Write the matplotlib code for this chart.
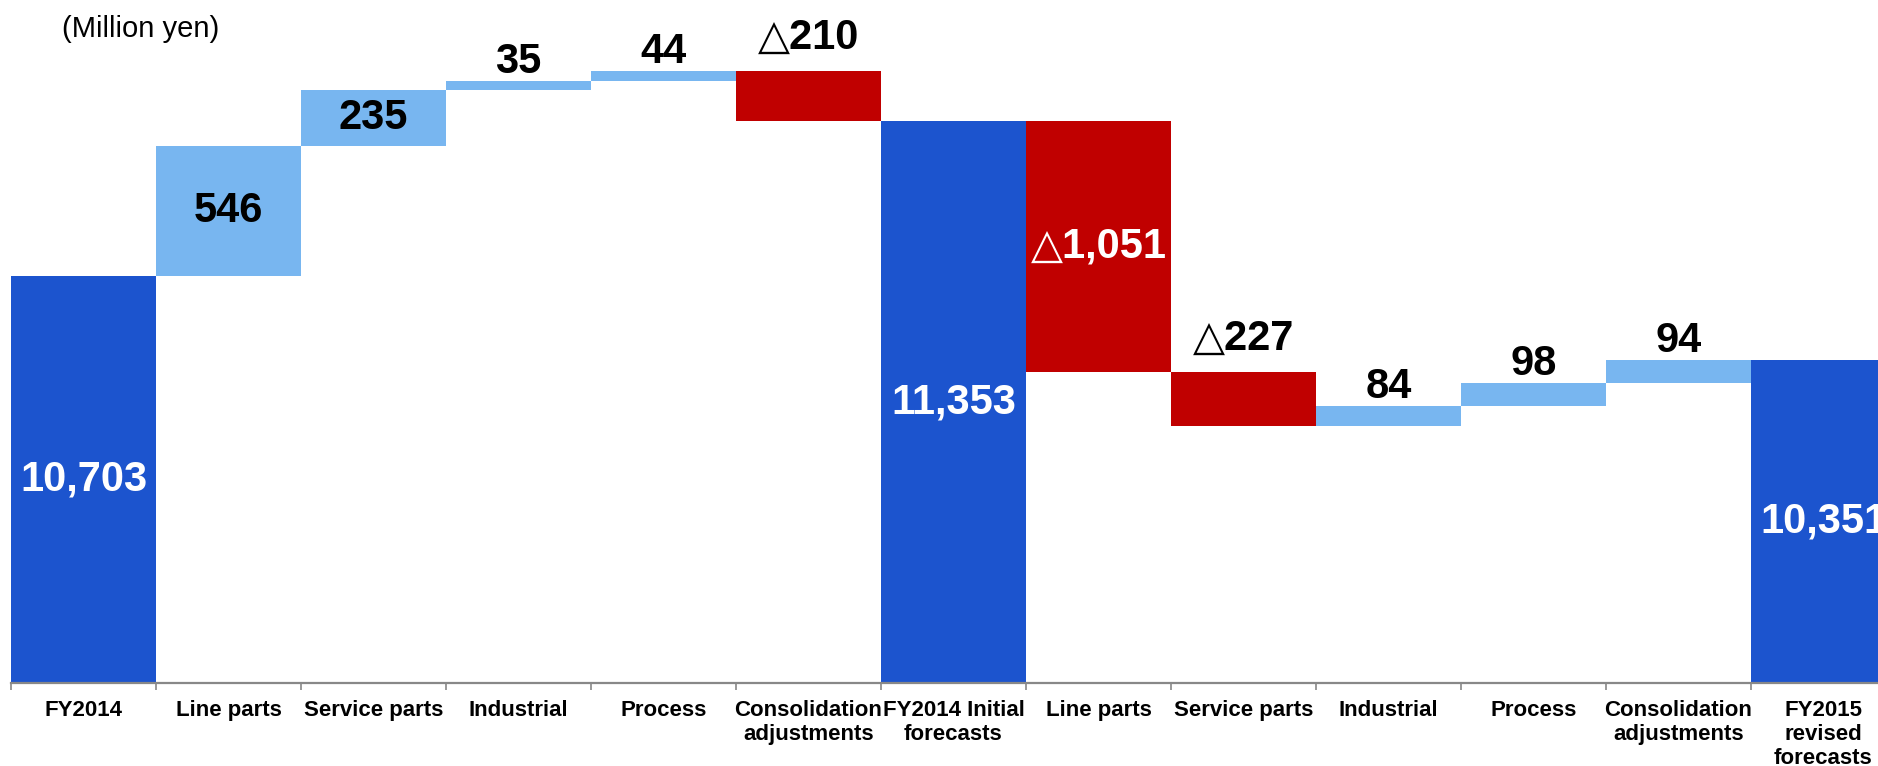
import matplotlib
matplotlib.use("Agg")
import matplotlib.pyplot as plt
from matplotlib.ticker import FixedLocator

# data
categories = ["FY2014", "Line parts", "Service parts", "Industrial", "Process",
              "Consolidation\nadjustments", "FY2014 Initial\nforecasts",
              "Line parts", "Service parts", "Industrial", "Process",
              "Consolidation\nadjustments", "FY2015\nrevised\nforecasts"]
values = [10703, 546, 235, 35, 44, -210, 11353, -1051, -227, 84, 98, 94, 10351]
is_total = [True, False, False, False, False, False, True,
            False, False, False, False, False, True]

# label placement / colours (style only)
label_inside = [True, True, True, False, False, False, True,
                True, False, False, False, False, True]
c_total = "#1C54CE"
c_up = "#78B6F0"
c_down = "#C00000"

fonts = ["Liberation Sans", "DejaVu Sans"]

W, H = 1878, 766
fig = plt.figure(figsize=(W / 100, H / 100), dpi=100)
ax = fig.add_axes([11 / W, (H - 683) / H, 1 - 11 / W, 683 / H])

bottoms, heights, colors = [], [], []
running = 0
for v, tot in zip(values, is_total):
    if tot:
        bottoms.append(0)
        heights.append(v)
        colors.append(c_total)
        running = v
    else:
        if v >= 0:
            bottoms.append(running)
            colors.append(c_up)
        else:
            bottoms.append(running + v)
            colors.append(c_down)
        heights.append(abs(v))
        running += v

x = list(range(len(values)))
ax.bar(x, heights, bottom=bottoms, width=1.0, color=colors, linewidth=0)

ax.set_ylim(9000, 11860)
ax.set_xlim(-0.5, -0.5 + (W - 11) / 145)


def fmt(v, tot):
    s = "{:,}".format(abs(v))
    if not tot and v < 0:
        s = "\u25B3" + s
    return s


for i, (v, tot) in enumerate(zip(values, is_total)):
    b, h = bottoms[i], heights[i]
    txt = fmt(v, tot)
    if label_inside[i]:
        lo = max(b, 9000)
        col = "white" if (tot or v < 0) else "black"
        ax.text(i, (lo + b + h) / 2, txt, ha="center", va="center",
                fontsize=30, fontweight="bold", color=col, family=fonts)
    else:
        off = 8 if v >= 0 else 22
        ax.annotate(txt, (i, b + h), xytext=(0, off), textcoords="offset pixels",
                    ha="center", va="baseline", fontsize=30, fontweight="bold",
                    color="black", family=fonts, annotation_clip=False)

for s in ["top", "left", "right"]:
    ax.spines[s].set_visible(False)
ax.spines["bottom"].set_color("#888888")
ax.spines["bottom"].set_linewidth(1.6)
ax.set_yticks([])
ax.set_xticks(x)
ax.set_xticklabels(categories, fontsize=16, fontweight="bold", family=fonts,
                   linespacing=1.2)
ax.xaxis.set_minor_locator(FixedLocator([i - 0.5 for i in range(len(values) + 1)]))
ax.tick_params(axis="x", which="major", length=0, pad=12)
ax.tick_params(axis="x", which="minor", length=5, width=1.2, color="#888888")

fig.text(62 / W, 1 - 37 / H, "(Million yen)", fontsize=21, family=fonts,
         ha="left", va="baseline")

fig.savefig("out.png", dpi=100)
